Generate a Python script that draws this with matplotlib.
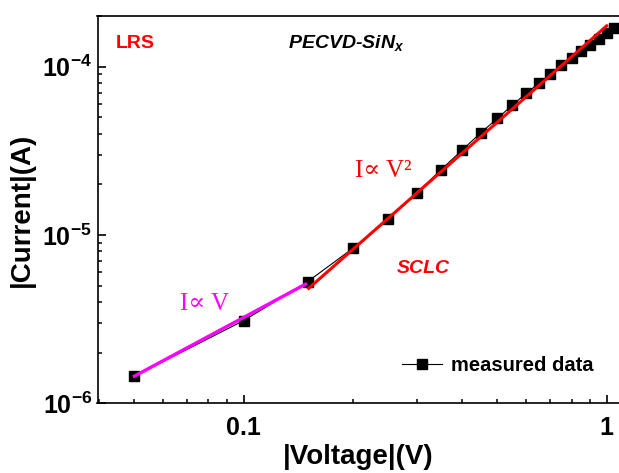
import matplotlib
matplotlib.use("Agg")
from matplotlib import pyplot as plt

plt.rcParams['font.family'] = ['Liberation Sans', 'DejaVu Sans']
plt.rcParams['font.weight'] = 'bold'
plt.rcParams['mathtext.fontset'] = 'custom'
plt.rcParams['mathtext.rm'] = 'Liberation Sans:bold'
plt.rcParams['mathtext.bf'] = 'Liberation Sans:bold'
plt.rcParams['mathtext.it'] = 'Liberation Sans:bold:italic'

# measured I-V (LRS)
voltage = [0.05, 0.1, 0.15, 0.2, 0.25, 0.3, 0.35, 0.4, 0.45, 0.5, 0.55,
           0.6, 0.65, 0.7, 0.75, 0.8, 0.85, 0.9, 0.95, 1.0, 1.05]
current = [1.45e-6, 3.10e-6, 5.28e-6, 8.34e-6, 1.245e-5, 1.78e-5, 2.45e-5,
           3.20e-5, 4.05e-5, 4.93e-5, 5.92e-5, 6.95e-5, 7.97e-5, 9.05e-5,
           1.02e-4, 1.13e-4, 1.24e-4, 1.35e-4, 1.46e-4, 1.58e-4, 1.69e-4]

# fits
ohm_v = [0.05, 0.148]
ohm_i = [1.45e-6, 5.1e-6]
sclc_v = [0.151, 1.0]
sclc_i = [4.82e-6, 1.75e-4]

xticks = [0.1, 1]
xticklabels = ['0.1', '1']
yticks = [1e-6, 1e-5, 1e-4]
yticklabels = [r'$\mathbf{10^{-6}}$', r'$\mathbf{10^{-5}}$', r'$\mathbf{10^{-4}}$']

fig = plt.figure(figsize=(6.19, 4.73), dpi=100)
ax = fig.add_axes([97.5 / 619, 1 - 403.3 / 473, 521.5 / 619, 387.6 / 473])

ax.plot(voltage, current, color='black', lw=0.8, marker='s', ms=7,
        label='measured data')
ax.plot(ohm_v, ohm_i, color='#ff00ff', lw=2.4)
ax.plot(sclc_v, sclc_i, color='red', lw=2.2)

ax.set_xscale('log')
ax.set_yscale('log')
ax.set_xlim(0.03957, 1.081)
ax.set_ylim(1e-6, 2.01e-4)

ax.set_xticks(xticks)
ax.set_xticklabels(xticklabels)
ax.set_yticks(yticks)
ax.set_yticklabels(yticklabels)
ax.tick_params(which='major', direction='in', length=6, width=1.2,
               labelsize=18)
ax.tick_params(axis='x', which='major', pad=9)
ax.tick_params(axis='y', which='major', pad=4)
ax.tick_params(which='minor', direction='in', length=3, width=1.1)
ax.xaxis.set_minor_formatter(matplotlib.ticker.NullFormatter())
ax.yaxis.set_minor_formatter(matplotlib.ticker.NullFormatter())
for s in ax.spines.values():
    s.set_linewidth(1.2)
ax.spines['right'].set_visible(False)

ax.set_xlabel('|Voltage|(V)', fontsize=20, fontweight='bold', labelpad=3)
ax.set_ylabel('|Current|(A)', fontsize=20, fontweight='bold', labelpad=5)

ax.text(0.0355, 0.917, 'LRS', color='red', fontsize=14, fontweight='bold',
        transform=ax.transAxes)
ax.text(0.365, 0.917, r'PECVD-SiN$_{\mathit{x}}$', fontsize=14,
        fontweight='bold', style='italic', transform=ax.transAxes)
ax.text(0.494, 0.584, 'I\u221d V\u00b2', color='red', fontsize=18,
        family=['Liberation Serif', 'DejaVu Serif'], fontweight='normal',
        transform=ax.transAxes)
ax.text(0.158, 0.241, 'I\u221d V', color='#ff00ff', fontsize=18,
        family=['Liberation Serif', 'DejaVu Serif'], fontweight='normal',
        transform=ax.transAxes)
ax.text(0.574, 0.336, 'SCLC', color='red', fontsize=14, fontweight='bold',
        style='italic', transform=ax.transAxes)

ax.legend(loc='lower right', frameon=False, fontsize=14.5, handlelength=2.0,
          handletextpad=0.4, bbox_to_anchor=(0.985, 0.025))

fig.savefig('out.png', dpi=100)
